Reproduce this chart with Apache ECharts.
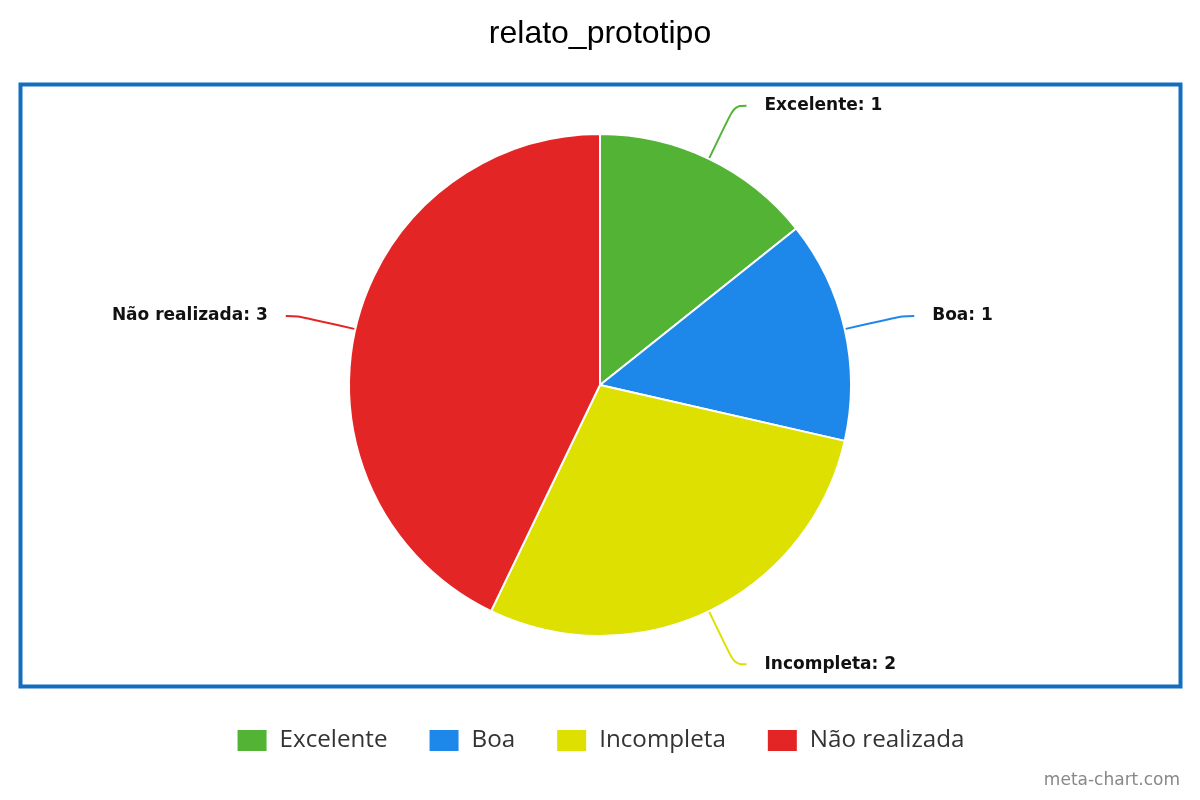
<!DOCTYPE html>
<html>
<head>
<meta charset="utf-8">
<script src="https://cdn.jsdelivr.net/npm/echarts@6/dist/echarts.min.js"></script>
<style>
    *{ padding: 0; margin: 0; }
    body{ background: #fff; }
    #chart{ width: 1200px; height: 800px; }
</style>
</head>
<body>
<div id="chart"></div>
<script>
    // dados do gráfico
    const categories = ['Excelente', 'Boa', 'Incompleta', 'Não realizada'];
    const values = [1, 1, 2, 3];
    const colors = ['#52b335', '#1e88ea', '#dde000', '#e42525'];

    let myChart = echarts.init(document.getElementById('chart'));
    let option = {
        backgroundColor: '#fff',
        color: colors,
        title: {
            text: 'relato_prototipo',
            left: 'center',
            top: 13,
            textStyle: { fontFamily: 'Liberation Sans', fontWeight: 'normal', fontSize: 32, color: '#000' }
        },
        graphic: [
            {
                type: 'rect',
                shape: { x: 20.5, y: 84.5, width: 1160, height: 602 },
                style: { fill: 'none', stroke: '#126fc0', lineWidth: 4 },
                z: 0
            },
            {
                type: 'text',
                right: 20,
                top: 772,
                style: { text: 'meta-chart.com', font: '17px "DejaVu Sans"', fill: '#888' }
            }
        ],
        legend: {
            data: categories,
            left: 'center',
            top: 723,
            icon: 'rect',
            itemWidth: 31,
            itemHeight: 23,
            itemGap: 40,
            textStyle: { fontFamily: 'Open Sans', fontSize: 24.2, color: '#333', padding: [0, 0, 0, 7] }
        },
        series: [{
            type: 'pie',
            center: [600, 385],
            radius: 251,
            startAngle: 90,
            clockwise: true,
            animation: false,
            itemStyle: { borderColor: '#fff', borderWidth: 2 },
            label: {
                formatter: '{b}: {c}',
                fontFamily: 'DejaVu Sans',
                fontWeight: 'bold',
                fontSize: 17,
                color: '#111',
                distanceToLabelLine: 18
            },
            labelLine: { length: 59, length2: 12, smooth: 0.4, lineStyle: { width: 2 } },
            emphasis: { disabled: true },
            data: categories.map((c, i) => ({ name: c, value: values[i] }))
        }]
    };
    myChart.setOption(option);
</script>
</body>
</html>
